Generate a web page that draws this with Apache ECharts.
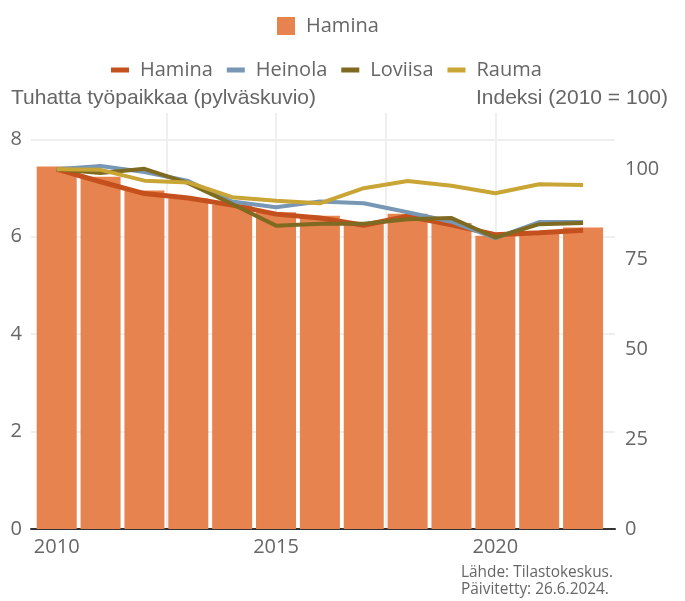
<!DOCTYPE html>
<html>
<head>
<meta charset="utf-8">
<script src="https://cdn.jsdelivr.net/npm/echarts@6/dist/echarts.min.js"></script>
<style>
  html, body { margin: 0; padding: 0; background: #fff; }
  #chart { width: 685px; height: 601px; }
</style>
</head>
<body>
<div id="chart"></div>
<script>
var chart = echarts.init(document.getElementById('chart'));

// vuodet ja arvot
var years = [2010, 2011, 2012, 2013, 2014, 2015, 2016, 2017, 2018, 2019, 2020, 2021, 2022];
var jobsHamina = [7.44, 7.23, 6.95, 6.79, 6.66, 6.50, 6.43, 6.30, 6.47, 6.28, 6.02, 6.12, 6.19];   // tuhatta työpaikkaa
var idxHamina  = [100, 96.5, 93.2, 92.0, 90.0, 87.5, 86.4, 84.4, 86.9, 84.5, 81.8, 82.3, 83.0];
var idxHeinola = [100, 100.9, 99.2, 96.7, 91.0, 89.4, 91.0, 90.5, 88.0, 85.4, 80.8, 85.3, 85.3];
var idxLoviisa = [100, 98.9, 100.1, 96.1, 90.3, 84.3, 84.8, 84.8, 86.1, 86.4, 81.0, 84.7, 85.0];
var idxRauma   = [100, 99.8, 96.8, 96.3, 92.2, 91.2, 90.5, 94.7, 96.7, 95.4, 93.3, 95.8, 95.6];

var gridTicks = [2010, 2012.5, 2015, 2017.5, 2020, 2022.5];
var yearLabels = [2010, 2015, 2020];
var leftTicks = [0, 2, 4, 6, 8];
var rightTicks = [0, 25, 50, 75, 100];

function pairs(vals) {
    return vals.map(function (v, i) { return [years[i], v]; });
}

var txt = '#666';
var font = 'Open Sans';

option = {
    animation: false,
    grid: { left: 31, right: 70, top: 113, bottom: 72 },
    legend: [{
        left: 272, top: 11,
        data: ['Hamina'],
        icon: 'rect', itemWidth: 18, itemHeight: 18,
        textStyle: { color: txt, fontSize: 20, fontFamily: font, padding: [0, 0, 0, 6] }
    }, {
        left: 106, top: 55,
        data: ['Hamina ', 'Heinola', 'Loviisa', 'Rauma'],
        icon: 'rect', itemWidth: 18, itemHeight: 5, itemGap: 14,
        formatter: function (n) { return n.trim(); },
        textStyle: { color: txt, fontSize: 20, fontFamily: font, padding: [0, 0, 0, 6] }
    }],
    xAxis: {
        type: 'value',
        min: 2009.414, max: 2022.728,
        axisLine: { show: true, lineStyle: { color: '#333', width: 2 } },
        axisTick: { show: false, customValues: gridTicks },
        axisLabel: {
            customValues: yearLabels, color: txt, fontSize: 20, fontFamily: font, margin: 8,
            formatter: function (v) { return String(v); }
        },
        splitLine: { show: true, showMinLine: false, showMaxLine: false, lineStyle: { color: '#efefef', width: 2 } }
    },
    yAxis: [{
        type: 'value', min: 0, max: 8.54,
        axisLine: { show: false }, axisTick: { show: false },
        axisLabel: { customValues: leftTicks, color: txt, fontSize: 20, fontFamily: font, margin: 9 },
        splitLine: { show: true, showMinLine: false, showMaxLine: false, lineStyle: { color: '#efefef', width: 2 } }
    }, {
        type: 'value', min: 0, max: 115.6,
        axisLine: { show: false }, axisTick: { show: false },
        axisLabel: { customValues: rightTicks, color: txt, fontSize: 20, fontFamily: font, margin: 10 },
        splitLine: { show: false }
    }],
    graphic: [
        { type: 'text', left: 11, top: 88, style: { text: 'Tuhatta työpaikkaa (pylväskuvio)', fill: txt, fontSize: 21, fontFamily: 'Liberation Sans' } },
        { type: 'text', right: 17, top: 88, style: { text: 'Indeksi (2010 = 100)', fill: txt, fontSize: 21, fontFamily: 'Liberation Sans' } },
        { type: 'text', right: 72, top: 564, style: { text: 'Lähde: Tilastokeskus.\nPäivitetty: 26.6.2024.', fill: txt, fontSize: 15.4, lineHeight: 17, align: 'right', fontFamily: font } }
    ],
    series: [{
        name: 'Hamina', type: 'bar', data: pairs(jobsHamina), barWidth: 40,
        itemStyle: { color: '#e6834f' }
    }, {
        name: 'Hamina ', type: 'line', yAxisIndex: 1, data: pairs(idxHamina),
        color: '#c4511d', symbol: 'none', lineStyle: { width: 5 }
    }, {
        name: 'Heinola', type: 'line', yAxisIndex: 1, data: pairs(idxHeinola),
        color: '#7797b5', symbol: 'none', lineStyle: { width: 4 }
    }, {
        name: 'Loviisa', type: 'line', yAxisIndex: 1, data: pairs(idxLoviisa),
        color: '#7e6a20', symbol: 'none', lineStyle: { width: 4 }
    }, {
        name: 'Rauma', type: 'line', yAxisIndex: 1, data: pairs(idxRauma),
        color: '#c9a535', symbol: 'none', lineStyle: { width: 4 }
    }]
};

chart.setOption(option);
</script>
</body>
</html>
